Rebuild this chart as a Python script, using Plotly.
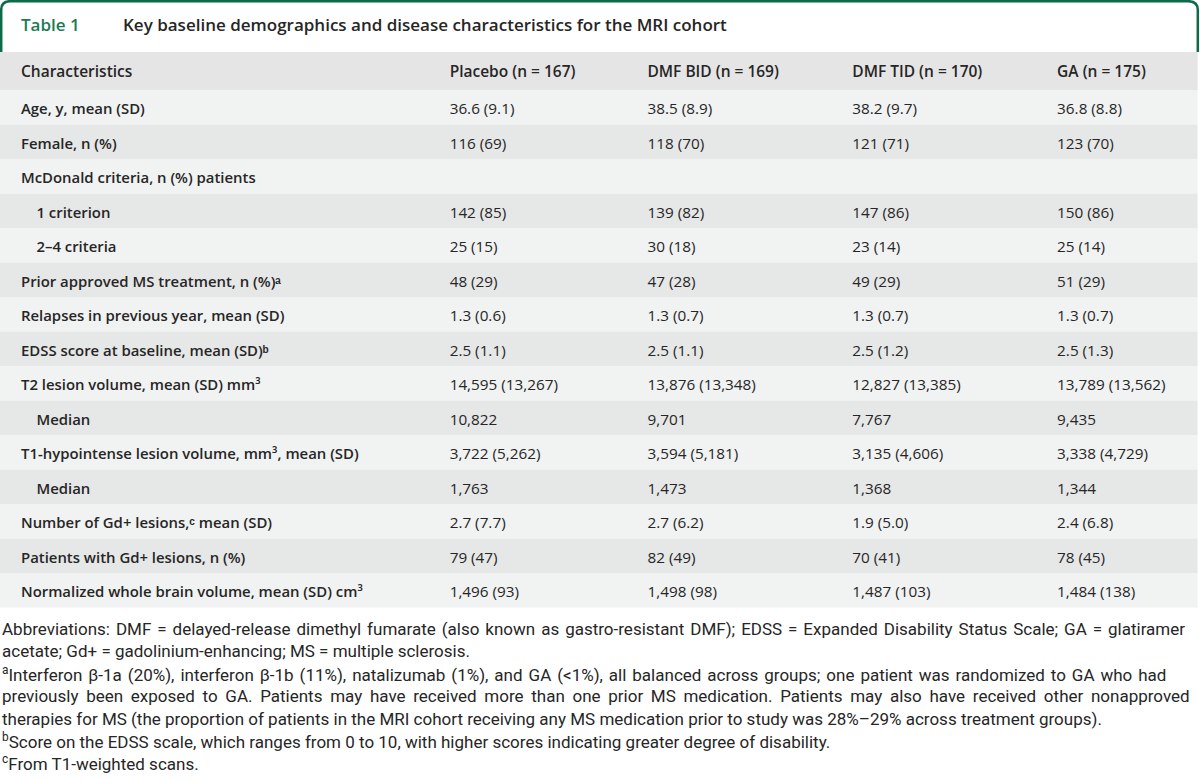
import plotly.graph_objects as go

W, H = 1200, 780

title_label = "Table 1"
title_text = "Key baseline demographics and disease characteristics for the MRI cohort"

columns = ["Characteristics", "Placebo (n = 167)", "DMF BID (n = 169)",
           "DMF TID (n = 170)", "GA (n = 175)"]

IND = "\u00a0\u00a0\u00a0\u00a0"
characteristics = [
    "Age, y, mean (SD)",
    "Female, n (%)",
    "McDonald criteria, n (%) patients",
    IND + "1 criterion",
    IND + "2–4 criteria",
    "Prior approved MS treatment, n (%)ᵃ",
    "Relapses in previous year, mean (SD)",
    "EDSS score at baseline, mean (SD)ᵇ",
    "T2 lesion volume, mean (SD) mm³",
    IND + "Median",
    "T1-hypointense lesion volume, mm³, mean (SD)",
    IND + "Median",
    "Number of Gd+ lesions,ᶜ mean (SD)",
    "Patients with Gd+ lesions, n (%)",
    "Normalized whole brain volume, mean (SD) cm³",
]
placebo = ["36.6 (9.1)", "116 (69)", "", "142 (85)", "25 (15)", "48 (29)", "1.3 (0.6)",
           "2.5 (1.1)", "14,595 (13,267)", "10,822", "3,722 (5,262)", "1,763",
           "2.7 (7.7)", "79 (47)", "1,496 (93)"]
dmf_bid = ["38.5 (8.9)", "118 (70)", "", "139 (82)", "30 (18)", "47 (28)", "1.3 (0.7)",
           "2.5 (1.1)", "13,876 (13,348)", "9,701", "3,594 (5,181)", "1,473",
           "2.7 (6.2)", "82 (49)", "1,498 (98)"]
dmf_tid = ["38.2 (9.7)", "121 (71)", "", "147 (86)", "23 (14)", "49 (29)", "1.3 (0.7)",
           "2.5 (1.2)", "12,827 (13,385)", "7,767", "3,135 (4,606)", "1,368",
           "1.9 (5.0)", "70 (41)", "1,487 (103)"]
ga = ["36.8 (8.8)", "123 (70)", "", "150 (86)", "25 (14)", "51 (29)", "1.3 (0.7)",
      "2.5 (1.3)", "13,789 (13,562)", "9,435", "3,338 (4,729)", "1,344",
      "2.4 (6.8)", "78 (45)", "1,484 (138)"]

HS = "\u200a"  # hair space
TS = "\u2009"  # thin space
footnotes = [
    ("Abbreviations: DMF = delayed-release dimethyl fumarate (also known as gastro-resistant DMF); EDSS = Expanded Disability Status Scale; GA = glatiramer", HS),
    ("acetate; Gd+ = gadolinium-enhancing; MS = multiple sclerosis.", ""),
    ("<sup>a</sup>Interferon β-1a (20%), interferon β-1b (11%), natalizumab (1%), and GA (&lt;1%), all balanced across groups; one patient was randomized to GA who had", HS),
    ("previously been exposed to GA. Patients may have received more than one prior MS medication. Patients may also have received other nonapproved", TS),
    ("therapies for MS (the proportion of patients in the MRI cohort receiving any MS medication prior to study was 28%–29% across treatment groups).", ""),
    ("<sup>b</sup>Score on the EDSS scale, which ranges from 0 to 10, with higher scores indicating greater degree of disability.", ""),
    ("<sup>c</sup>From T1-weighted scans.", ""),
]

GREEN = "#0d6b47"
TITLE_GREEN = "#1d7a54"
TEXT = "#262626"
HEADER_BG = "#e5e5e5"
LIGHT = "#f1f2f2"
DARK = "#e6e7e7"
CLEAR = "rgba(0,0,0,0)"

TABLE_FONT = "Open Sans, Roboto, sans-serif"

HEADER_TOP, HEADER_H, ROW_H = 52, 38, 34.5
TEXT_SHIFT = 5  # table text sits near the top of each cell; shift it to centre

n = len(characteristics)
spacer = [""] * n

fig = go.Figure(go.Table(
    domain=dict(x=[0, 0.998], y=[0.1, 1 - (HEADER_TOP + TEXT_SHIFT) / H]),
    columnwidth=[13, 429, 198, 205, 205, 148],
    header=dict(
        values=[""] + columns,
        fill_color=CLEAR,
        line=dict(width=0, color=CLEAR),
        align="left",
        height=HEADER_H,
        font=dict(family=TABLE_FONT, size=15.5, color=TEXT, weight=600),
    ),
    cells=dict(
        values=[spacer, characteristics, placebo, dmf_bid, dmf_tid, ga],
        fill_color=CLEAR,
        line=dict(width=0, color=CLEAR),
        align="left",
        height=ROW_H,
        font=dict(family=TABLE_FONT, size=[15.3, 14.9, 15.3, 15.3, 15.3, 15.3], color=TEXT,
                  weight=[400, 600, 400, 400, 400, 400]),
    ),
))

# row background stripes (header + alternating rows), behind the table
def yp(y):
    return 1 - y / H

fig.add_shape(type="rect", xref="paper", yref="paper", layer="below",
              x0=0, x1=0.998, y0=yp(HEADER_TOP), y1=yp(HEADER_TOP + HEADER_H),
              fillcolor=HEADER_BG, line=dict(width=0))
for i in range(n):
    top = HEADER_TOP + HEADER_H + i * ROW_H
    fig.add_shape(type="rect", xref="paper", yref="paper", layer="below",
                  x0=0, x1=0.998, y0=yp(top), y1=yp(top + ROW_H),
                  fillcolor=LIGHT if i % 2 == 0 else DARK, line=dict(width=0))

# green title frame
def px(x, y):
    return f"{x / W:.5f},{1 - y / H:.5f}"

path = (f"M {px(1.2, 52)} L {px(1.2, 10)} Q {px(1.2, 1.2)} {px(10, 1.2)} "
        f"L {px(1188, 1.2)} Q {px(1197.8, 1.2)} {px(1197.8, 10)} L {px(1197.8, 52)}")
fig.add_shape(type="path", path=path, xref="paper", yref="paper",
              line=dict(color=GREEN, width=2.5))

fig.add_annotation(x=19 / W, y=1 - 25 / H, xref="paper", yref="paper",
                   xanchor="left", yanchor="middle", showarrow=False,
                   text=title_label,
                   font=dict(family=TABLE_FONT, size=17, color=TITLE_GREEN, weight=600))
fig.add_annotation(x=121 / W, y=1 - 25 / H, xref="paper", yref="paper",
                   xanchor="left", yanchor="middle", showarrow=False,
                   text=title_text,
                   font=dict(family=TABLE_FONT, size=17, color=TEXT, weight=600))

foot_y0, foot_dy = 629, 22.4
for i, (line, extra) in enumerate(footnotes):
    if extra:
        line = line.replace(" ", " " + extra)
    fig.add_annotation(x=0, y=1 - (foot_y0 + i * foot_dy) / H, xref="paper", yref="paper",
                       xanchor="left", yanchor="middle", showarrow=False,
                       text=line, align="left",
                       font=dict(family="Roboto, sans-serif", size=17, color=TEXT))

fig.update_layout(width=W, height=H, margin=dict(l=0, r=0, t=0, b=0),
                  paper_bgcolor="white", plot_bgcolor="white")

fig.write_html("out.html", config={"displayModeBar": False},
               post_script="document.body.style.margin='0';document.body.style.overflow='hidden';")
